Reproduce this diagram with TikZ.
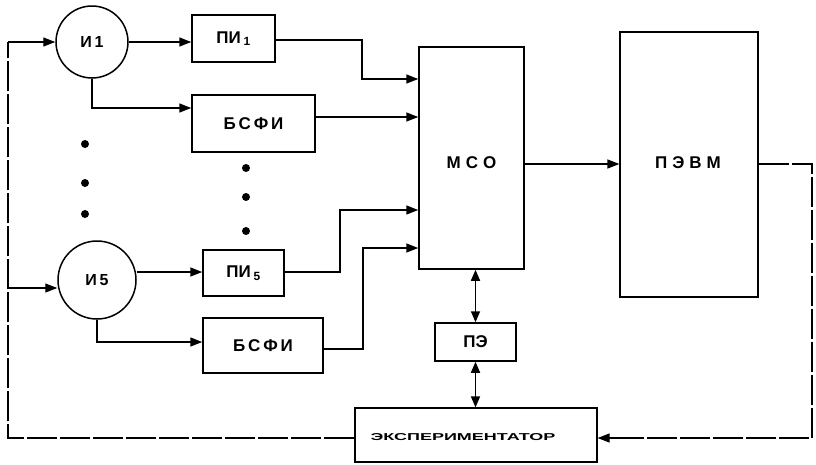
\documentclass[tikz,border=0pt]{standalone}
\usepackage{fontspec}
\setmainfont{Liberation Sans}
\usetikzlibrary{arrows.meta,calc}
\begin{document}
\begin{tikzpicture}[x=1pt,y=-1pt,
  line width=1.5pt,
  box/.style={draw,rectangle,inner sep=0pt,font=\bfseries\fontsize{17}{19}\selectfont},
  ring/.style={draw,circle,inner sep=0pt,font=\bfseries\fontsize{16}{18}\selectfont},
  arr/.style={-{Triangle[length=12pt,width=9pt]}},
  darr/.style={{Triangle[length=11pt,width=9pt]}-{Triangle[length=11pt,width=9pt]}},
  fb/.style={line width=1.2pt,dash pattern=on 30pt off 3pt},
  dot/.style={circle,fill,inner sep=0pt,minimum size=8pt}]
\useasboundingbox (0,0) rectangle (816,464);

% nodes
\node[ring,minimum size=72pt] (i1) at (92,42) {И\,1};
\node[ring,minimum size=78pt] (i5) at (97,280) {И\,5};
\node[box,minimum width=83pt,minimum height=47pt] (pi1) at (233.5,38.5) {ПИ\,$_{\mathbf 1}$};
\node[box,minimum width=123pt,minimum height=57pt] (b1) at (253.5,123.5) {Б\,С\,Ф\,И};
\node[box,minimum width=81pt,minimum height=46pt] (pi5) at (243.5,273) {ПИ\,$_{\mathbf 5}$};
\node[box,minimum width=120pt,minimum height=55pt] (b5) at (263,345.5) {Б\,С\,Ф\,И};
\node[box,minimum width=105pt,minimum height=222pt] (mso) at (471.5,158) {};
\node[font=\bfseries\fontsize{17}{19}\selectfont] (msot) at (471.5,163) {М\hspace{5pt}С\hspace{5pt}О};
\node[box,line width=1.2pt,minimum width=138pt,minimum height=265pt] (pevm) at (689,164.5) {};
\node[font=\bfseries\fontsize{17}{19}\selectfont] (pevmt) at (688,163) {П\hspace{5pt}Э\hspace{5pt}В\hspace{5pt}М};
\node[box,minimum width=81pt,minimum height=38pt] (pe) at (475.5,342) {ПЭ};
\node[draw,rectangle,line width=1.2pt,minimum width=242pt,minimum height=54pt,inner sep=0pt] (exp) at (476,435) {};
\node[font=\bfseries\fontsize{10}{11}\selectfont] (expt) at (463,437) {\scalebox{1.8}[1]{ЭКСПЕРИМЕНТАТОР}};

% dots
\node[dot] (d1) at (85,144) {};
\node[dot] (d2) at (85,183) {};
\node[dot] (d3) at (85,214) {};
\node[dot] (d4) at (246,168) {};
\node[dot] (d5) at (246,197) {};
\node[dot] (d6) at (246,231) {};

% connectors
\draw[arr] (i1.east) -- (pi1.west |- i1.east);
\draw[arr] (pi1.east |- 0,40) -- (362,40) |- (mso.west |- 0,79);
\draw[arr] (i1.south) |- (b1.west |- 0,108);
\draw[arr] (b1.east |- 0,117) -- (mso.west |- 0,117);
\draw[arr] (i5.east |- 0,272) -- (pi5.west |- 0,272);
\draw[arr] (pi5.east |- 0,272) -- (340,272) |- (mso.west |- 0,210);
\draw[arr] (i5.south) |- (b5.west |- 0,342);
\draw[arr] (b5.east |- 0,349) -- (363,349) |- (mso.west |- 0,248);
\draw[arr,line width=1.2pt] (mso.east |- 0,164) -- (pevm.west |- 0,164);
\draw[darr] (pe.north) -- (pe.north |- mso.south);
\draw[darr] (pe.south) -- (pe.south |- exp.north);

% feedback loops
\coordinate (lc) at (8,288);
\draw[fb] (exp.west |- 0,438) -- (8,438) -- (8,42);
\draw[arr,line width=1.2pt] (8,42) -- (i1.west);
\draw[arr,line width=1.2pt] (lc) -- (i5.west |- lc);
\draw[fb] (pevm.east |- 0,164) -- (812,164) -- (812,438) -- (620,438);
\draw[arr,line width=1.2pt] (620,438) -- (exp.east |- 0,438);
\end{tikzpicture}
\end{document}
